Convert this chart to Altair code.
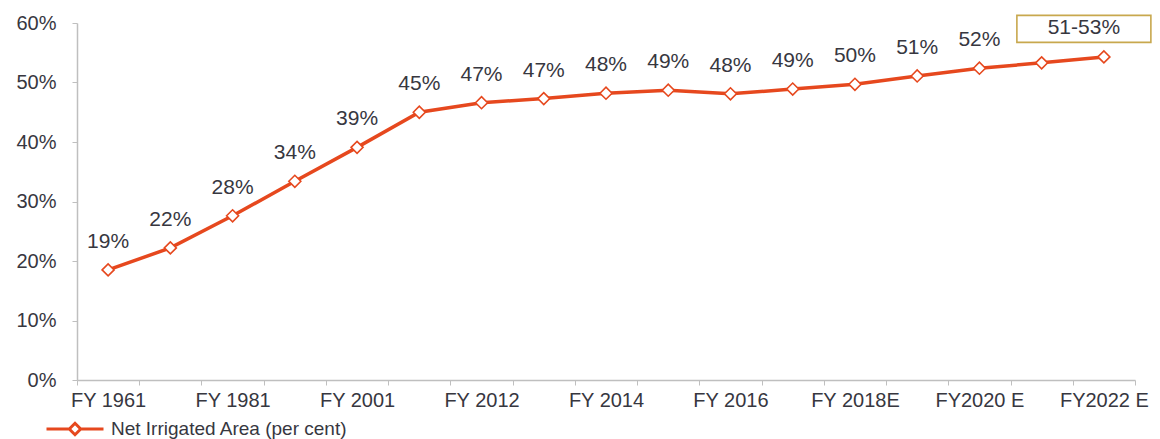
import altair as alt
import pandas as pd

categories = ["FY 1961", "FY 1971", "FY 1981", "FY 1991", "FY 2001", "FY 2011",
              "FY 2012", "FY 2013", "FY 2014", "FY 2015", "FY 2016", "FY 2017",
              "FY 2018E", "FY 2019E", "FY2020 E", "FY2021 E", "FY2022 E"]
values = [0.185, 0.222, 0.276, 0.334, 0.391, 0.450, 0.466, 0.473, 0.482, 0.487,
          0.481, 0.489, 0.497, 0.511, 0.524, 0.533, 0.543]
point_labels = ["19%", "22%", "28%", "34%", "39%", "45%", "47%", "47%", "48%",
                "49%", "48%", "49%", "50%", "51%", "52%", "", ""]
shown_ticks = ["FY 1961", "FY 1981", "FY 2001", "FY 2012", "FY 2014", "FY 2016",
               "FY 2018E", "FY2020 E", "FY2022 E"]
range_label = "51-53%"
series_name = "Net Irrigated Area (per cent)"

RED = "#E6481E"
TXT = "#37373F"
GRAY = "#BFBFBF"
FONT = "Liberation Sans"

df = pd.DataFrame({
    "cat": categories,
    "val": values,
    "lab": point_labels,
    "idx": list(range(len(categories))),
    "series": series_name,
})
df["box"] = [""] * (len(categories) - 1) + [range_label]

tick_list = ",".join("'" + t + "'" for t in shown_ticks)

x_enc = alt.X(
    "cat:N", sort=categories, title=None,
    scale=alt.Scale(paddingInner=0, paddingOuter=0),
    axis=alt.Axis(labelAngle=0, tickBand="extent",
                  labelExpr=f"indexof([{tick_list}], datum.value) >= 0 ? datum.value : ''",
                  domainColor=GRAY, tickColor=GRAY, tickSize=5, domainWidth=1.5,
                  labelFontSize=20, labelColor=TXT, labelFont=FONT, labelPadding=5,
                  labelOverlap=False, labelFlush=False, labelBound=False),
)
y_enc = alt.Y(
    "val:Q", title=None,
    scale=alt.Scale(domain=[0, 0.6], nice=False),
    axis=alt.Axis(values=[0, 0.1, 0.2, 0.3, 0.4, 0.5, 0.6], format=".0%",
                  grid=False, domainColor=GRAY, tickColor=GRAY, tickSize=5,
                  domainWidth=1.5, labelFontSize=20, labelColor=TXT,
                  labelFont=FONT, labelPadding=16),
)

base = alt.Chart(df).encode(x=x_enc, y=y_enc)

legend_path = "M-1,0 L-0.2,0 M0.2,0 L1,0 M-0.2,0 L0,-0.2 L0.2,0 L0,0.2 Z"

line = base.mark_line(strokeWidth=3.5).encode(
    color=alt.Color("series:N", scale=alt.Scale(range=[RED]),
                    legend=alt.Legend(title=None, orient="none", legendX=-32,
                                      legendY=376, symbolType=legend_path,
                                      symbolSize=3249, symbolStrokeWidth=3,
                                      symbolFillColor="white",
                                      labelFontSize=19, labelFont=FONT,
                                      labelColor=TXT, labelOffset=6,
                                      padding=0, labelLimit=500))
)

points = base.mark_point(shape="diamond", filled=True, fill="white", stroke=RED,
                         strokeWidth=1.6, size=144, opacity=1)

labels = base.mark_text(dy=-28, fontSize=21, font=FONT, color=TXT).encode(
    text="lab:N"
)

box_path = "M-1,-0.2015 L1,-0.2015 L1,0.2015 L-1,0.2015 Z"
box = base.transform_filter("datum.box != ''").mark_point(
    shape=box_path, size=17956, filled=False, fill="white", fillOpacity=1,
    stroke="#C8A84E", strokeWidth=1.6, opacity=1, xOffset=-20, yOffset=-28
)
box_text = base.transform_filter("datum.box != ''").mark_text(
    dx=-20, dy=-29, fontSize=21, font=FONT, color=TXT
).encode(text="box:N")

chart = alt.layer(line, box, box_text, labels, points).properties(
    width=1058, height=357,
    autosize=alt.AutoSizeParams(type="none"),
    padding={"left": 69, "top": 15, "right": 17, "bottom": 64},
    background="white",
).configure_view(stroke=None)

chart.save("out.html", embed_options={"renderer": "svg", "actions": False})
